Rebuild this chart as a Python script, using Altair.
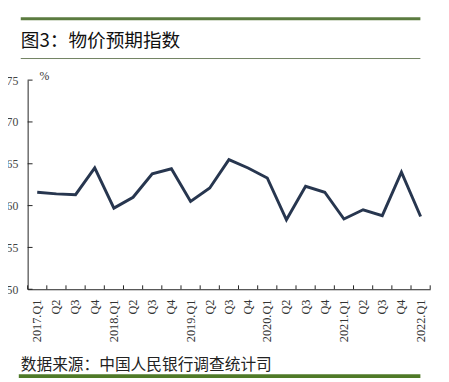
import altair as alt
import pandas as pd

quarters = ["2017.Q1", "2017.Q2", "2017.Q3", "2017.Q4",
            "2018.Q1", "2018.Q2", "2018.Q3", "2018.Q4",
            "2019.Q1", "2019.Q2", "2019.Q3", "2019.Q4",
            "2020.Q1", "2020.Q2", "2020.Q3", "2020.Q4",
            "2021.Q1", "2021.Q2", "2021.Q3", "2021.Q4",
            "2022.Q1"]
values = [61.6, 61.4, 61.3, 64.5,
          59.7, 61.0, 63.8, 64.4,
          60.5, 62.1, 65.5, 64.5,
          63.3, 58.3, 62.3, 61.6,
          58.4, 59.5, 58.8, 64.0,
          58.7]
y_ticks = [50, 55, 60, 65, 70, 75]
title_text = "图3：物价预期指数"
source_text = "数据来源：中国人民银行调查统计司"
unit_text = "%"

W, H = 410, 213
df = pd.DataFrame({"q": quarters, "v": values})
tick_df = pd.DataFrame({"t": y_ticks})

xscale = alt.Scale(domain=quarters, paddingInner=0, paddingOuter=0)
yscale = alt.Scale(domain=[50, 75], nice=False, zero=False)

line = alt.Chart(df).mark_line(color="#27364f", strokeWidth=3, strokeJoin="miter").encode(
    x=alt.X("q:N", scale=xscale, sort=quarters, title=None,
            axis=alt.Axis(labelAngle=270, ticks=False, labelPadding=10, grid=False,
                          labelFont="Liberation Serif", labelFontSize=12.5,
                          labelColor="#333333", domainColor="#222222",
                          labelExpr="indexof(datum.value, 'Q1') >= 0 ? datum.value : substring(datum.value, 5)")),
    y=alt.Y("v:Q", scale=yscale, title=None,
            axis=alt.Axis(values=y_ticks, ticks=False, labelPadding=10, grid=False,
                          labelFont="Liberation Serif", labelFontSize=12,
                          labelColor="#444444", domainColor="#222222")),
)

xticks = alt.Chart(df).mark_rule(color="#222222", strokeWidth=1).encode(
    x=alt.X("q:N", scale=xscale, sort=quarters, bandPosition=0),
    y=alt.value(H - 4), y2=alt.value(H),
)
xtick_end = alt.Chart(pd.DataFrame({"a": [1]})).mark_rule(color="#222222", strokeWidth=1).encode(
    x=alt.value(W), y=alt.value(H - 4), y2=alt.value(H),
)
yticks = alt.Chart(tick_df).mark_rule(color="#222222", strokeWidth=1).encode(
    y=alt.Y("t:Q", scale=yscale), x=alt.value(0), x2=alt.value(5),
)

deco = pd.DataFrame({"a": [1]})
top_bar = alt.Chart(deco).mark_rule(color="#5b7b3f", strokeWidth=3).encode(
    x=alt.value(-7), x2=alt.value(400), y=alt.value(-62.5))
thin_bar = alt.Chart(deco).mark_rule(color="#6f8060", strokeWidth=1).encode(
    x=alt.value(-7), x2=alt.value(400), y=alt.value(-22))
bottom_bar = alt.Chart(deco).mark_rule(color="#4f7a28", strokeWidth=4).encode(
    x=alt.value(-9), x2=alt.value(400), y=alt.value(301.5))

title = alt.Chart(pd.DataFrame({"t": [title_text]})).mark_text(
    align="left", baseline="middle", font="Noto Sans CJK SC", fontSize=19,
    fontWeight="normal", color="#111111").encode(
    x=alt.value(-7), y=alt.value(-40), text="t:N")
source = alt.Chart(pd.DataFrame({"t": [source_text]})).mark_text(
    align="left", baseline="middle", font="Noto Sans CJK SC", fontSize=16,
    color="#222222").encode(
    x=alt.value(-7), y=alt.value(290), text="t:N")
unit = alt.Chart(pd.DataFrame({"t": [unit_text]})).mark_text(
    align="center", baseline="middle", font="Liberation Serif", fontSize=12,
    color="#333333").encode(
    x=alt.value(17), y=alt.value(-4), text="t:N")

chart = alt.layer(line, xticks, xtick_end, yticks, top_bar, thin_bar, bottom_bar,
                  title, source, unit).properties(
    width=W, height=H,
    background="white",
    autosize=alt.AutoSizeParams(type="none"),
    padding={"left": 20, "top": 70, "right": 11, "bottom": 91},
).configure_view(stroke="transparent", strokeWidth=0)

chart.save("out.html", embed_options={"renderer": "svg", "actions": False})
